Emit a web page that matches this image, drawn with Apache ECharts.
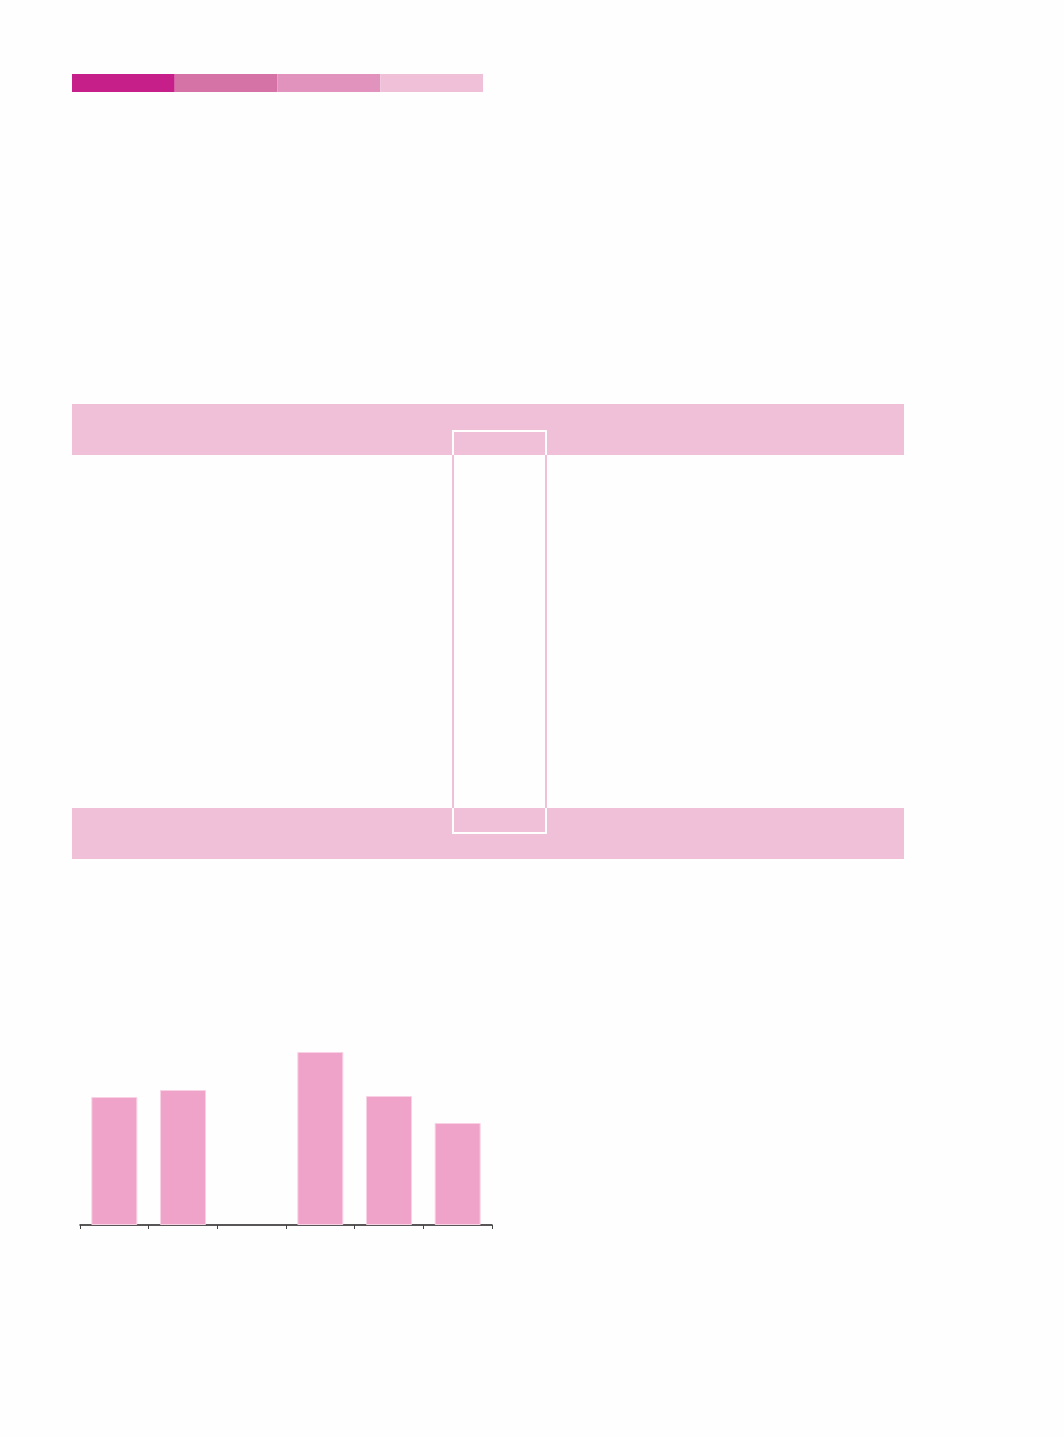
<!DOCTYPE html>
<html>
<head>
<meta charset="utf-8">
<script src="https://cdn.jsdelivr.net/npm/echarts@6/dist/echarts.min.js"></script>
<style>
  html, body { margin: 0; padding: 0; background: #fffefe; }
  #main { width: 1064px; height: 1437px; }
</style>
</head>
<body>
<div id="main"></div>
<script>
// 柱状图数据（第三类为空）
var categories = ['A', 'B', 'C', 'D', 'E', 'F'];
var barValues = [128, 135, null, 173, 129, 102];
var yMax = 200;

// 顶部色条
var stripColors = ['#c71f8a', '#d573a6', '#e192bd', '#efc0d8'];
var bandColor = '#efc0d8';

var myChart = echarts.init(document.getElementById('main'));

var graphics = [];
for (var i = 0; i < stripColors.length; i++) {
    graphics.push({
        type: 'rect',
        shape: { x: 72 + i * 102.75, y: 74, width: 102.75, height: 18 },
        style: { fill: stripColors[i] }
    });
}
// 两条粉色横带
graphics.push({ type: 'rect', shape: { x: 72, y: 404, width: 832, height: 51 }, style: { fill: bandColor } });
graphics.push({ type: 'rect', shape: { x: 72, y: 808, width: 832, height: 51 }, style: { fill: bandColor } });
// 竖框：带外粉色两边
graphics.push({ type: 'polyline', shape: { points: [[453, 455], [453, 808]] }, style: { stroke: bandColor, lineWidth: 2, fill: null } });
graphics.push({ type: 'polyline', shape: { points: [[546, 455], [546, 808]] }, style: { stroke: bandColor, lineWidth: 2, fill: null } });
// 带内白色部分
graphics.push({ type: 'polyline', shape: { points: [[453, 455], [453, 431], [546, 431], [546, 455]] }, style: { stroke: '#ffffff', lineWidth: 2, fill: null }, z: 2 });
graphics.push({ type: 'polyline', shape: { points: [[453, 808], [453, 833], [546, 833], [546, 808]] }, style: { stroke: '#ffffff', lineWidth: 2, fill: null }, z: 2 });

var option = {
    backgroundColor: '#fffefe',
    animation: false,
    graphic: graphics,
    grid: {
        left: 80,
        top: 1025,
        width: 412,
        height: 200
    },
    xAxis: {
        type: 'category',
        data: categories,
        axisLine: { lineStyle: { color: '#231f20', width: 1.5 } },
        axisTick: { show: true, length: 4, inside: false, lineStyle: { color: '#444444' } },
        axisLabel: { show: false },
        splitLine: { show: false }
    },
    yAxis: {
        type: 'value',
        min: 0,
        max: yMax,
        show: false,
        splitLine: { show: false }
    },
    series: [{
        type: 'bar',
        data: barValues,
        barWidth: '67%',
        itemStyle: {
            color: '#f0a3c9',
            borderColor: '#f8d2e4',
            borderWidth: 1
        }
    }]
};

myChart.setOption(option);
</script>
</body>
</html>
